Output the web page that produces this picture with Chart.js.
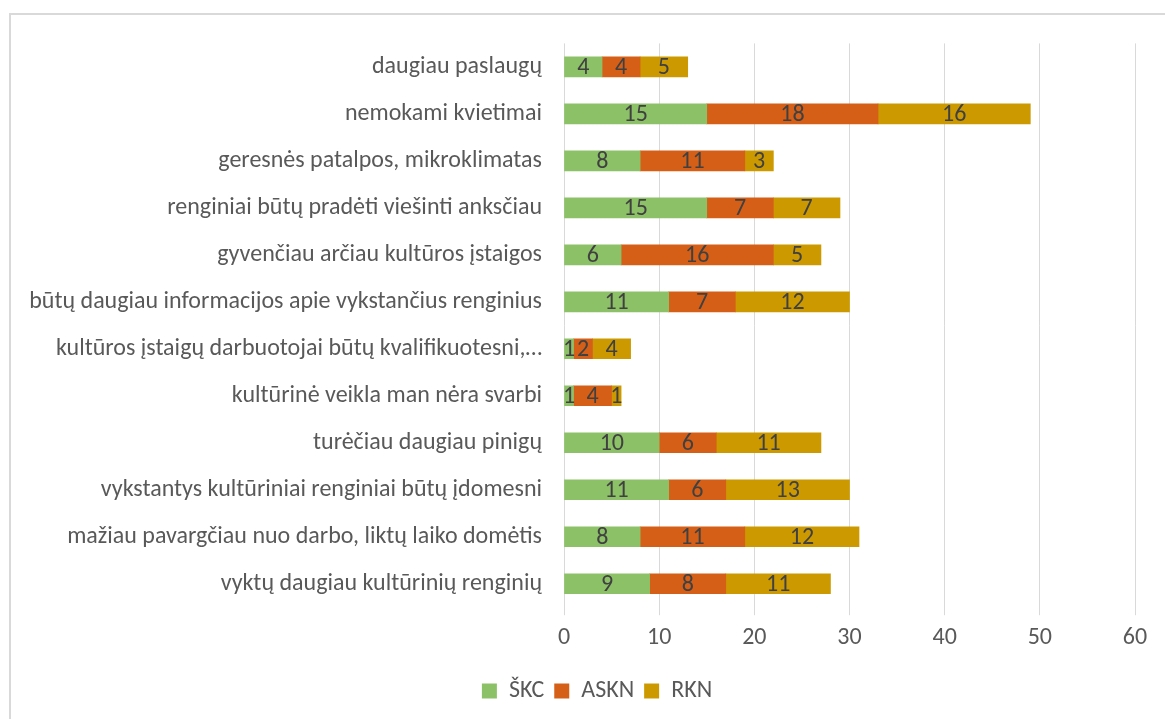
<!DOCTYPE html>
<html>
<head>
<meta charset="utf-8">
<script src="https://cdn.jsdelivr.net/npm/chart.js@4/dist/chart.umd.min.js"></script>
<style>
  html, body { margin: 0; padding: 0; background: #fff; overflow: hidden; }
  #box {
    position: absolute; left: 9px; top: 13px;
    width: 1172px; height: 704px;
    border-top: 2px solid #d9d9d9;
    border-left: 2px solid #d9d9d9;
  }
</style>
</head>
<body>
<div id="box"><canvas id="myBarChart"></canvas></div>
<script>
// kategorijos (iš viršaus į apačią)
const categories = [
  'daugiau paslaugų',
  'nemokami kvietimai',
  'geresnės patalpos, mikroklimatas',
  'renginiai būtų pradėti viešinti anksčiau',
  'gyvenčiau arčiau kultūros įstaigos',
  'būtų daugiau informacijos apie vykstančius renginius',
  'kultūros įstaigų darbuotojai būtų kvalifikuotesni,…',
  'kultūrinė veikla man nėra svarbi',
  'turėčiau daugiau pinigų',
  'vykstantys kultūriniai renginiai būtų įdomesni',
  'mažiau pavargčiau nuo darbo, liktų laiko domėtis',
  'vyktų daugiau kultūrinių renginių'
];
const seriesNames = ['ŠKC', 'ASKN', 'RKN'];
const skc  = [4, 15, 8, 15, 6, 11, 1, 1, 10, 11, 8, 9];
const askn = [4, 18, 11, 7, 16, 7, 2, 4, 6, 6, 11, 8];
const rkn  = [5, 16, 3, 7, 5, 12, 4, 1, 11, 13, 12, 11];
const xTicks = [0, 10, 20, 30, 40, 50, 60];

const colors = ['#8cc168', '#d65f17', '#cc9a00'];
const fontFamily = 'Calibri, Carlito, "Liberation Sans", sans-serif';
const fontSize = 24;

// reikšmių užrašai ant stulpelių
const valueLabels = {
  id: 'valueLabels',
  afterDatasetsDraw(chart) {
    const ctx = chart.ctx;
    ctx.save();
    ctx.fillStyle = '#404040';
    ctx.font = fontSize + 'px ' + fontFamily;
    ctx.textAlign = 'center';
    ctx.textBaseline = 'middle';
    chart.data.datasets.forEach(function (ds, i) {
      chart.getDatasetMeta(i).data.forEach(function (bar, j) {
        const x = (bar.x + bar.base) / 2;
        ctx.fillText(String(ds.data[j]), x, bar.y + 1);
      });
    });
    ctx.restore();
  }
};

const ctx = document.getElementById('myBarChart').getContext('2d');
const myBarChart = new Chart(ctx, {
  type: 'bar',
  data: {
    labels: categories,
    datasets: [skc, askn, rkn].map(function (d, i) {
      return {
        label: seriesNames[i],
        data: d,
        backgroundColor: colors[i],
        barThickness: 20
      };
    })
  },
  options: {
    indexAxis: 'y',
    responsive: true,
    maintainAspectRatio: false,
    animation: false,
    layout: { padding: { left: 0, right: 0, top: 10, bottom: 6 } },
    scales: {
      x: {
        stacked: true,
        min: 0,
        max: 60,
        afterBuildTicks(scale) {
          scale.ticks = xTicks.map(function (v) { return { value: v }; });
        },
        afterFit(scale) { scale.height += 9; },
        grid: { color: '#d9d9d9', lineWidth: 1, tickLength: 8, tickColor: '#d9d9d9' },
        border: { display: false },
        ticks: { color: '#595959', font: { family: fontFamily, size: fontSize }, padding: 8 }
      },
      y: {
        stacked: true,
        grid: { display: false },
        border: { display: false },
        afterFit(scale) { scale.width = 553; },
        ticks: { color: '#595959', font: { family: fontFamily, size: fontSize }, padding: 14, autoSkip: false }
      },
      // tuščia vieta dešinėje (legenda lieka centre)
      spacer: {
        type: 'linear',
        axis: 'y',
        position: 'right',
        grid: { display: false },
        border: { display: false },
        ticks: { display: false },
        afterFit(scale) { scale.width = 48; }
      }
    },
    plugins: {
      legend: {
        position: 'bottom',
        labels: {
          color: '#595959',
          font: { family: fontFamily, size: fontSize },
          boxWidth: 15,
          boxHeight: 15,
          padding: 10
        }
      },
      tooltip: { enabled: false }
    }
  },
  plugins: [valueLabels]
});
</script>
</body>
</html>
